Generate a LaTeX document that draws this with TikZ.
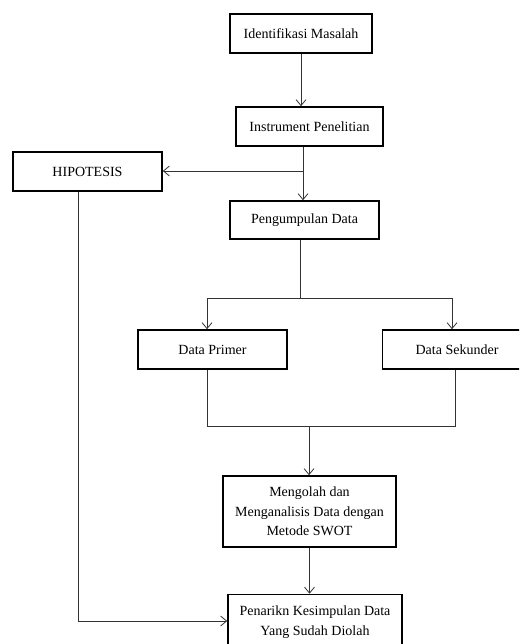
\documentclass[tikz,border=0pt]{standalone}
\usepackage{fontspec}
\setmainfont{Liberation Serif}
\usetikzlibrary{arrows.meta}

\begin{document}
\begin{tikzpicture}[x=1pt, y=-1pt,
	box/.style={draw, line width=1.6pt, fill=white, align=center, inner sep=2pt,
		font=\fontsize{14}{19.5}\selectfont},
	link/.style={line width=0.8pt, draw=black!80},
	>={Straight Barb[length=6pt, width=10pt]}]
	\useasboundingbox (0,0) rectangle (519,644);
	\clip (0,0) rectangle (519,644);
	% boxes
	\node [box, minimum width=142, minimum height=39] (ident) at (301, 33.5) {Identifikasi Masalah};
	\node [box, minimum width=147, minimum height=39] (instr) at (309.5, 126.5) {Instrument Penelitian};
	\node [box, minimum width=149, minimum height=39] (hipo) at (87.5, 171.5) {HIPOTESIS};
	\node [box, minimum width=149, minimum height=38] (kumpul) at (304.5, 220) {Pengumpulan Data};
	\node [box, minimum width=149, minimum height=39] (primer) at (212.5, 349.5) {Data Primer};
	\node [box, minimum width=149, minimum height=39] (sekunder) at (457, 349.5) {Data Sekunder};
	\node [box, minimum width=173, minimum height=71] (olah) at (309.5, 511.5) {Mengolah dan\\Menganalisis Data dengan\\Metode SWOT};
	\node [box, minimum width=174, minimum height=55] (tarik) at (315, 622) {Penarikn Kesimpulan Data\\Yang Sudah Diolah};
	% points
	\coordinate (cabang) at (303, 171);
	\coordinate (bagi) at (300, 298);
	\coordinate (kiri) at (207, 298);
	\coordinate (kanan) at (452, 298);
	\coordinate (jkiri) at (207, 426);
	\coordinate (jkanan) at (455, 426);
	\coordinate (gabung) at (309, 426);
	\coordinate (hbawah) at (78, 621);
	% links
	\draw [link, ->] (ident.south) -- (ident.south |- instr.north);
	\draw [link, ->] (cabang |- instr.south) -- (cabang |- kumpul.north);
	\draw [link, ->] (cabang) -- (cabang -| hipo.east);
	\draw [link] (bagi |- kumpul.south) -- (bagi);
	\draw [link] (kiri) -- (kanan);
	\draw [link, ->] (kiri) -- (kiri |- primer.north);
	\draw [link, ->] (kanan) -- (kanan |- sekunder.north);
	\draw [link] (jkiri |- primer.south) -- (jkiri) -- (jkanan) -- (jkanan |- sekunder.south);
	\draw [link, ->] (gabung) -- (gabung |- olah.north);
	\draw [link, ->] (olah.south) -- (olah.south |- tarik.north);
	\draw [link, ->] (hbawah |- hipo.south) -- (hbawah) -- (hbawah -| tarik.west);
\end{tikzpicture}
\end{document}
